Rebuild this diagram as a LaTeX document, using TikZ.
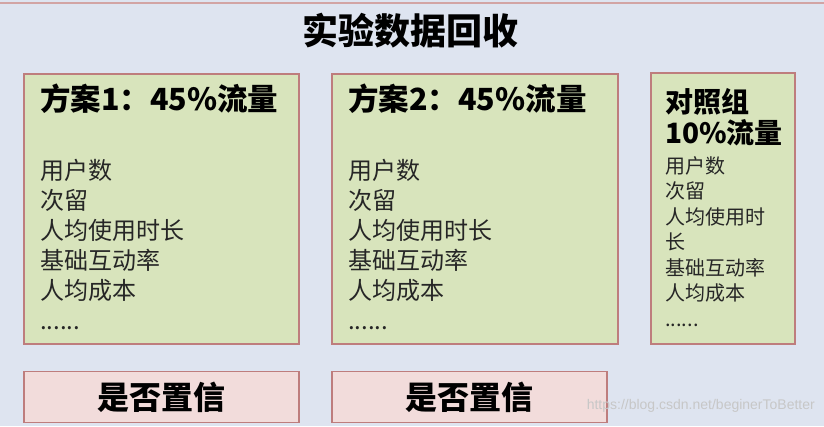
\documentclass[tikz,border=0pt]{standalone}
\usepackage{fontspec}
\newfontfamily\cjk{Noto Sans CJK SC}
\newfontfamily\urlfont{Liberation Sans}
\usepackage{tikz}
\usetikzlibrary{positioning}
\definecolor{bgblue}{RGB}{222,228,240}
\definecolor{boxgreen}{RGB}{216,228,188}
\definecolor{boxpink}{RGB}{242,220,219}
\definecolor{boxred}{RGB}{190,125,125}
\definecolor{textgray}{RGB}{38,38,38}
\tikzset{
  planbox/.style={draw=boxred, fill=boxgreen, line width=1.6pt, inner sep=0pt, anchor=north west},
  okbox/.style={draw=boxred, fill=boxpink, line width=1.6pt, inner sep=0pt, minimum width=275pt, minimum height=51pt,
    font=\cjk\bfseries\fontsize{32}{32}\selectfont},
  heading/.style={font=\cjk\bfseries\fontsize{30.5}{30}\selectfont, inner sep=0pt, anchor=base west},
  items/.style={font=\cjk\fontsize{24}{30}\selectfont, text=textgray, align=left, inner sep=0pt, anchor=north west},
  smallitems/.style={items, font=\cjk\fontsize{20}{25.5}\selectfont},
}

\begin{document}
\begin{tikzpicture}[x=1pt,y=-1pt]
\useasboundingbox (0,0) rectangle (824,426);
\fill[bgblue] (0,0) rectangle (824,426);
\draw[boxred!70, line width=1.2pt] (0,3) -- (824,3);
% title
\node[font=\cjk\bfseries\fontsize{36}{36}\selectfont, inner sep=0pt] (title) at (410,31) {实验数据回收};
% plan 1
\node[planbox, minimum width=275pt, minimum height=270pt] (plan1) at (23,73) {};
\node[heading] (plan1head) at (40,110) {方案1：45\%流量};
\node[items] (plan1items) at (40,159) {用户数\\次留\\人均使用时长\\基础互动率\\人均成本\\......};
% plan 2
\node[planbox, minimum width=286pt, minimum height=270pt] (plan2) at (331,73) {};
\node[heading] (plan2head) at (348,110) {方案2：45\%流量};
\node[items] (plan2items) at (348,159) {用户数\\次留\\人均使用时长\\基础互动率\\人均成本\\......};
% control group
\node[planbox, minimum width=144pt, minimum height=271pt] (ctrl) at (650,72) {};
\node[heading, font=\cjk\bfseries\fontsize{28}{30}\selectfont] (ctrlhead) at (665,112) {对照组};
\node[heading, font=\cjk\bfseries\fontsize{28}{30}\selectfont] (ctrlflow) at (665,143) {10\%流量};
\node[smallitems] (ctrlitems) at (665,156) {用户数\\次留\\人均使用时\\长\\基础互动率\\人均成本\\......};
% confidence
\node[okbox, below=26pt of plan1] (ok1) {是否置信};
\node[okbox, below=26pt of plan2.south west, anchor=north west] (ok2) {是否置信};
\node[font=\urlfont\fontsize{14}{14}\selectfont, text=black!22, anchor=east, inner sep=0pt] (url) at (815,406) {https://blog.csdn.net/beginerToBetter};
\end{tikzpicture}
\end{document}
